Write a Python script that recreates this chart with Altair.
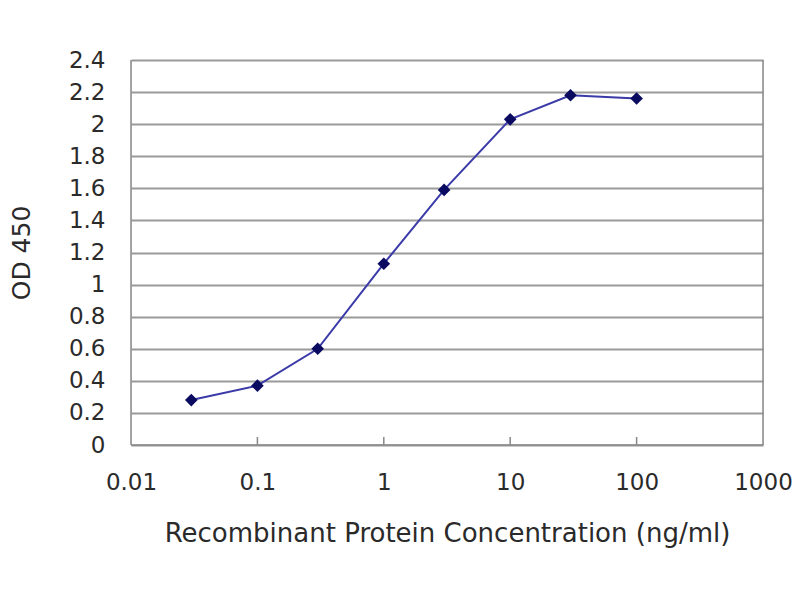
import altair as alt
import pandas as pd

conc = [0.03, 0.1, 0.3, 1, 3, 10, 30, 100]
od = [0.28, 0.37, 0.60, 1.13, 1.59, 2.03, 2.18, 2.16]
x_ticks = [0.01, 0.1, 1, 10, 100, 1000]
y_ticks = [0, 0.2, 0.4, 0.6, 0.8, 1, 1.2, 1.4, 1.6, 1.8, 2, 2.2, 2.4]

df = pd.DataFrame({"conc": conc, "od": od})
tick_df = pd.DataFrame({"t": x_ticks[1:-1]})

FONT = "DejaVu Sans"
TXT = "#2a2a2a"

xs = alt.Scale(type="log", domain=[0.01, 1000])
ys = alt.Scale(domain=[0, 2.4])

xaxis = alt.Axis(values=x_ticks, format="~g", grid=False, ticks=False, domain=False,
                 labelFont=FONT, labelFontSize=23, labelColor=TXT, labelPadding=26,
                 labelFlush=False, labelOverlap=False,
                 title="Recombinant Protein Concentration (ng/ml)",
                 titleFont=FONT, titleFontSize=26, titleFontWeight="normal", titleColor=TXT,
                 titleY=88, titleBaseline="middle")
yaxis = alt.Axis(values=y_ticks, format=".1~f", grid=True, gridColor="#9a9a9a", gridWidth=2,
                 ticks=False, domain=False, labelFont=FONT, labelFontSize=23, labelColor=TXT,
                 labelPadding=26, labelOverlap=False, labelFlush=False,
                 title="OD 450", titleFont=FONT, titleFontSize=25,
                 titleFontWeight="normal", titleColor=TXT, titleX=-110, titleY=192.5,
                 titleAngle=270, titleAlign="center", titleBaseline="middle")

line = alt.Chart(df).mark_line(color="#3a3aa8", strokeWidth=2).encode(
    x=alt.X("conc:Q", scale=xs, axis=xaxis),
    y=alt.Y("od:Q", scale=ys, axis=yaxis),
)
pts = alt.Chart(df).mark_point(shape="diamond", filled=True, color="#0a0a60", size=160, opacity=1).encode(
    x=alt.X("conc:Q", scale=xs, axis=xaxis),
    y=alt.Y("od:Q", scale=ys, axis=yaxis),
)
ticks = alt.Chart(tick_df).mark_rule(color="#888888", strokeWidth=1.5).encode(
    x=alt.X("t:Q", scale=xs, axis=xaxis),
    y=alt.value(385),
    y2=alt.value(377),
)
edges = pd.DataFrame({"e": [0.01, 1000]})
sides = alt.Chart(edges).mark_rule(color="#8a8a8a", strokeWidth=1.5).encode(
    x=alt.X("e:Q", scale=xs, axis=xaxis),
    y=alt.value(0),
    y2=alt.value(385),
)
bottom = alt.Chart(edges.head(1)).mark_rule(color="#8a8a8a", strokeWidth=1.5).encode(
    x=alt.value(0),
    x2=alt.value(632),
    y=alt.value(385),
)

chart = alt.layer(line, ticks, sides, bottom, pts).properties(
    width=632, height=385,
    autosize=alt.AutoSizeParams(type="none"),
    padding={"left": 123, "top": 52, "right": 29, "bottom": 147},
).configure_view(stroke=None).configure(background="white")

chart.save("out.html", embed_options={"renderer": "svg", "actions": False})
